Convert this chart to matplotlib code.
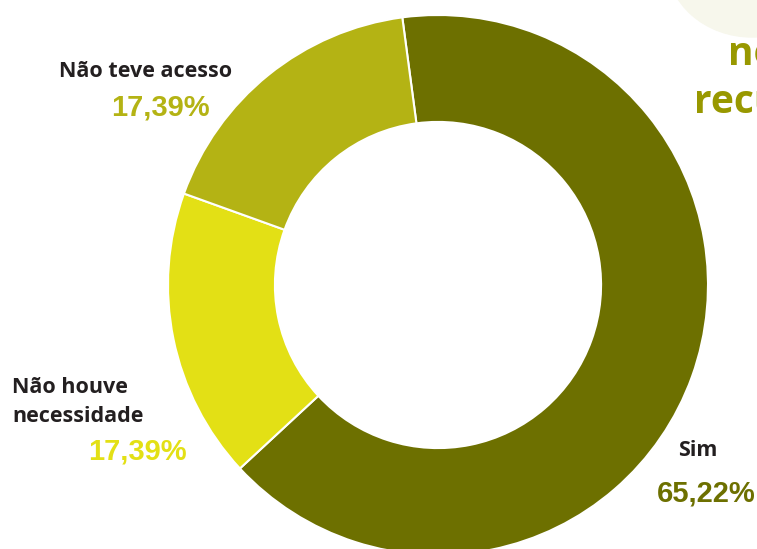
import matplotlib
matplotlib.use("Agg")
import matplotlib.pyplot as plt
from matplotlib.patches import Ellipse

categories = ["Sim", "Não houve necessidade", "Não teve acesso"]
values = [65.22, 17.39, 17.39]
pct_labels = ["65,22%", "17,39%", "17,39%"]
colors = ["#6d7000", "#e3e015", "#b4b314"]

W, H = 757, 549
fig = plt.figure(figsize=(W / 100, H / 100), dpi=100)
ax = fig.add_axes([0, 0, 1, 1])

# decorative background blob at top right
ax.add_patch(Ellipse((752, -38), 170, 150, color="#f7f7ec", zorder=0))

cx, cy, R = 438, 285, 270
# y axis is inverted below, so angles are mirrored: clockwise visually
ax.pie(values, colors=colors, startangle=-97.6, counterclock=True,
       center=(cx, cy), radius=R, frame=True,
       wedgeprops=dict(width=R * 0.396, edgecolor="white", linewidth=1.5))
ax.set_xlim(0, W)
ax.set_ylim(H, 0)
ax.set_aspect("equal")
ax.axis("off")

lab_font = dict(family=["Open Sans", "DejaVu Sans"], fontweight="bold", color="#231f20", fontsize=15.5)
pct_font = dict(family=["Liberation Sans", "DejaVu Sans"], fontweight="bold", fontsize=21)

# Não teve acesso
ax.text(146, 77, "Não teve acesso", ha="center", va="baseline", **lab_font)
ax.text(160, 115, pct_labels[2], ha="center", va="baseline", color=colors[2], **pct_font)
# Não houve necessidade
ax.text(12, 393, "Não houve", ha="left", va="baseline", **lab_font)
ax.text(12, 422, "necessidade", ha="left", va="baseline", **lab_font)
ax.text(137, 460, pct_labels[1], ha="center", va="baseline", color=colors[1], **pct_font)
# Sim
ax.text(698, 456, "Sim", ha="center", va="baseline", **lab_font)
ax.text(706, 502, pct_labels[0], ha="center", va="baseline", color=colors[0], **pct_font)

# cut-off heading text at the right edge (as in the reference)
head_font = dict(family=["Open Sans", "DejaVu Sans"], fontweight="bold", color="#989800", fontsize=28)
ax.text(728, 65, "ne", ha="left", va="baseline", **head_font)
ax.text(694, 113, "recu", ha="left", va="baseline", **head_font)

fig.savefig("out.png", dpi=100)
